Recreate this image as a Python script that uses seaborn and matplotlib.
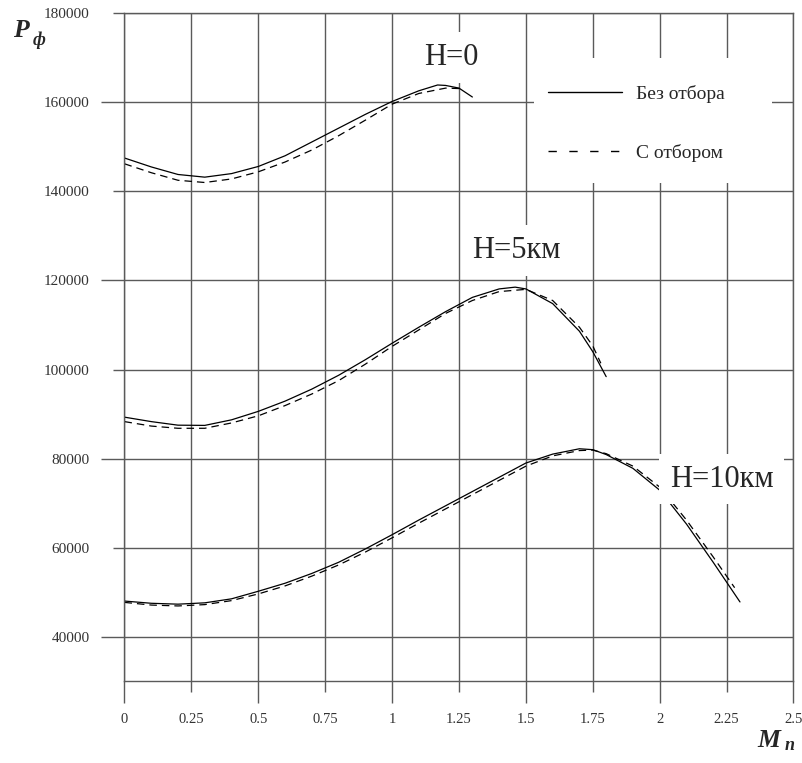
import numpy as np
import pandas as pd
import matplotlib
matplotlib.use("Agg")
import matplotlib.pyplot as plt
import seaborn as sns
from matplotlib.lines import Line2D
from matplotlib.patches import Rectangle

# ---------------- data ----------------
m_h0_solid = [0, 0.1, 0.2, 0.3, 0.4, 0.5, 0.6, 0.7, 0.8, 0.9, 1.0, 1.1, 1.17, 1.2, 1.25, 1.3]
p_h0_solid = [147500, 145500, 143800, 143200, 144000, 145600, 148000, 151100, 154200, 157300,
              160200, 162600, 163900, 163800, 163200, 161200]
m_h0_dash = [0, 0.1, 0.2, 0.3, 0.4, 0.5, 0.6, 0.7, 0.8, 0.9, 1.0, 1.1, 1.2, 1.25]
p_h0_dash = [146200, 144200, 142500, 142000, 142800, 144400, 146600, 149300, 152500, 156000,
             159600, 162000, 163200, 163100]

m_h5_solid = [0, 0.1, 0.2, 0.3, 0.4, 0.5, 0.6, 0.7, 0.8, 0.9, 1.0, 1.1, 1.2, 1.3, 1.4, 1.46,
              1.5, 1.6, 1.7, 1.75, 1.8]
p_h5_solid = [89300, 88300, 87500, 87450, 88700, 90600, 92900, 95600, 98700, 102200, 105900,
              109500, 113000, 116200, 118100, 118500, 118100, 114800, 108600, 104000, 98400]
m_h5_dash = [0, 0.1, 0.2, 0.3, 0.4, 0.5, 0.6, 0.7, 0.8, 0.9, 1.0, 1.1, 1.2, 1.3, 1.4, 1.5,
             1.6, 1.7, 1.75, 1.78]
p_h5_dash = [88300, 87300, 86800, 86800, 88000, 89600, 91900, 94500, 97500, 101200, 105200,
             108900, 112600, 115500, 117500, 118000, 115500, 109500, 105300, 101400]

m_h10_solid = [0, 0.1, 0.2, 0.3, 0.4, 0.5, 0.6, 0.7, 0.8, 0.9, 1.0, 1.1, 1.2, 1.3, 1.4, 1.5,
               1.6, 1.7, 1.75, 1.8, 1.9, 2.0, 2.1, 2.2, 2.3]
p_h10_solid = [48000, 47500, 47300, 47600, 48500, 50200, 52000, 54200, 56700, 59700, 62900,
               66200, 69400, 72600, 75800, 79000, 81000, 82200, 82000, 80900, 77800, 72900,
               65300, 56700, 47800]
m_h10_dash = [0, 0.1, 0.2, 0.3, 0.4, 0.5, 0.6, 0.7, 0.8, 0.9, 1.0, 1.1, 1.2, 1.3, 1.4, 1.5,
              1.6, 1.7, 1.75, 1.8, 1.9, 2.0, 2.1, 2.2, 2.28]
p_h10_dash = [47700, 47100, 46900, 47200, 48100, 49600, 51400, 53600, 56100, 59000, 62200,
              65500, 68700, 71900, 75100, 78300, 80600, 81800, 81900, 81100, 78300, 73600,
              66200, 57900, 51000]

x_major = [0, 0.5, 1.0, 1.5, 2.0, 2.5]
x_major_labels = ["0", "0.5", "1", "1.5", "2", "2.5"]
x_minor = [0.25, 0.75, 1.25, 1.75, 2.25]
x_minor_labels = ["0.25", "0.75", "1.25", "1.75", "2.25"]
y_major = [40000, 80000, 120000, 160000]
y_minor = [60000, 100000, 140000, 180000]

curve_labels = ["H=0", "H=5км", "H=10км"]
legend_labels = ["Без отбора", "С отбором"]

# ---------------- style ----------------
sns.set_style("white")
plt.rcParams["font.family"] = ["Liberation Serif", "DejaVu Serif"]

W, H = 803, 763
fig = plt.figure(figsize=(W / 100, H / 100), dpi=100)
ax = fig.add_axes([124.5 / W, 1 - 681.2 / H, 669 / W, 667.9 / H])

grid_c = "#5a5a5a"
ax.set_xlim(0, 2.5)
ax.set_ylim(30000, 180000)
ax.set_axisbelow(True)

series = [
    (m_h0_solid, p_h0_solid, "-"), (m_h0_dash, p_h0_dash, "--"),
    (m_h5_solid, p_h5_solid, "-"), (m_h5_dash, p_h5_dash, "--"),
    (m_h10_solid, p_h10_solid, "-"), (m_h10_dash, p_h10_dash, "--"),
]
for mx, py, ls in series:
    df = pd.DataFrame({"M": mx, "P": py})
    if ls == "-":
        sns.lineplot(data=df, x="M", y="P", ax=ax, color="black", lw=0.9,
                     estimator=None, sort=False, zorder=2)
    else:
        sns.lineplot(data=df, x="M", y="P", ax=ax, color="black", lw=0.9,
                     estimator=None, sort=False, zorder=2, dashes=False,
                     linestyle=(0, (6, 4)))

ax.set_xlabel("")
ax.set_ylabel("")

# ticks
ax.set_xticks(x_major, labels=x_major_labels)
ax.set_xticks(x_minor, labels=x_minor_labels, minor=True)
ax.set_yticks(y_major, labels=[str(v) for v in y_major])
ax.set_yticks(y_minor, labels=[str(v) for v in y_minor], minor=True)

ax.tick_params(axis="both", which="both", bottom=True, left=True, top=False, right=False)
ax.tick_params(axis="x", which="major", direction="out", length=15.8, width=1.0,
               color=grid_c, pad=7.2, labelsize=10.5, labelcolor="#333333")
ax.tick_params(axis="x", which="minor", direction="out", length=7.9, width=1.0,
               color=grid_c, pad=15.1, labelsize=10.5, labelcolor="#333333")
ax.tick_params(axis="y", which="major", direction="out", length=16.3, width=1.0,
               color=grid_c, pad=8.6, labelsize=11, labelcolor="#333333")
ax.tick_params(axis="y", which="minor", direction="out", length=7.9, width=1.0,
               color=grid_c, pad=17, labelsize=11, labelcolor="#333333")

ax.grid(True, which="both", color=grid_c, lw=1.0)
for s in ax.spines.values():
    s.set_visible(True)
    s.set_color(grid_c)
    s.set_linewidth(1.0)

# curve labels
lab_pos = [(1.119, 168400), (1.30, 125070), (2.039, 73670)]
for txt, (lx, ly) in zip(curve_labels, lab_pos):
    ax.text(lx, ly, txt, fontsize=22, ha="left", va="baseline", zorder=4,
            bbox=dict(boxstyle="square,pad=0.35", fc="white", ec="none"))

# legend: white box covering grid, then legend entries
ax.add_patch(Rectangle((0.612, 0.746), 0.356, 0.187, transform=ax.transAxes,
                       facecolor="white", edgecolor="none", zorder=1.5))
handles = [Line2D([], [], color="black", lw=1.0, linestyle="-"),
           Line2D([], [], color="black", lw=1.0, linestyle=(0, (6, 9)))]
leg = ax.legend(handles, legend_labels, loc="upper left",
                bbox_to_anchor=(0.633, 0.893), frameon=False, fontsize=14,
                handlelength=3.8, handletextpad=0.72, labelspacing=2.1,
                borderpad=0, borderaxespad=0)
leg.set_zorder(5)

# axis titles
fig.text(13 / W, 1 - 37 / H, "P", fontsize=18.5, fontweight="bold", fontstyle="italic",
         ha="left", va="baseline")
fig.text(33 / W, 1 - 45 / H, "ф", fontsize=13, fontweight="bold", fontstyle="italic",
         ha="left", va="baseline")
fig.text(757 / W, 1 - 746.7 / H, "M", fontsize=18.5, fontweight="bold", fontstyle="italic",
         ha="left", va="baseline")
fig.text(785 / W, 1 - 750 / H, "n", fontsize=13, fontweight="bold", fontstyle="italic",
         ha="left", va="baseline")

fig.savefig("out.png", dpi=100, facecolor="white")
